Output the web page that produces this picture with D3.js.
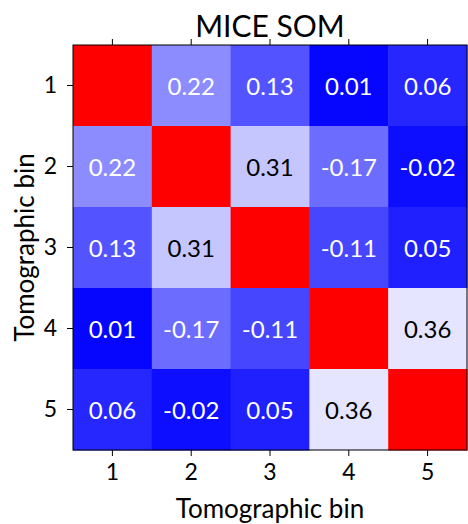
<!DOCTYPE html>
<html>
<head>
<meta charset="utf-8">
<script src="https://cdn.jsdelivr.net/npm/d3@7"></script>
<style>
body { margin: 0; background: #fff; }
text { font-family: Lato, "DejaVu Sans", sans-serif; }
</style>
</head>
<body>
<svg id="chart" width="468" height="524"></svg>
<script>
const bins = ['1', '2', '3', '4', '5'];
const matrix = [
    [1.00, 0.22, 0.13, 0.01, 0.06],
    [0.22, 1.00, 0.31, -0.17, -0.02],
    [0.13, 0.31, 1.00, -0.11, 0.05],
    [0.01, -0.17, -0.11, 1.00, 0.36],
    [0.06, -0.02, 0.05, 0.36, 1.00]
];

const margin = {top: 45, right: 1, bottom: 74, left: 73};
const width = 468 - margin.left - margin.right;
const height = 524 - margin.top - margin.bottom;

const svg = d3.select('#chart');
const g = svg.append('g').attr('transform', `translate(${margin.left},${margin.top})`);

const x = d3.scaleBand().domain(bins).range([0, width]);
const y = d3.scaleBand().domain(bins).range([0, height]);

// bwr colour map driven by |value|
function bwr(t) {
    t = Math.max(0, Math.min(1, t));
    if (t < 0.5) { const c = Math.round(2 * t * 255); return `rgb(${c},${c},255)`; }
    const c = Math.round((2 - 2 * t) * 255); return `rgb(255,${c},${c})`;
}
const tScale = d3.scaleLinear().domain([0, 0.8]).range([0, 1]);

const cells = [];
matrix.forEach((row, i) => row.forEach((v, j) => cells.push({i, j, v})));

g.selectAll('rect').data(cells).enter().append('rect')
    .attr('x', d => x(bins[d.j]))
    .attr('y', d => y(bins[d.i]))
    .attr('width', x.bandwidth() + 0.5)
    .attr('height', y.bandwidth() + 0.5)
    .attr('fill', d => bwr(tScale(Math.abs(d.v))));

g.selectAll('.lab').data(cells.filter(d => d.i !== d.j)).enter().append('text')
    .attr('x', d => x(bins[d.j]) + x.bandwidth() / 2)
    .attr('y', d => y(bins[d.i]) + y.bandwidth() / 2)
    .attr('text-anchor', 'middle')
    .attr('dominant-baseline', 'central')
    .attr('font-size', 24)
    .attr('fill', d => Math.abs(d.v) > 0.28 ? '#000' : '#fff')
    .text(d => d.v.toFixed(2));

g.append('rect').attr('width', width).attr('height', height)
    .attr('fill', 'none').attr('stroke', '#000').attr('stroke-width', 1);

const ax = g.append('g').attr('transform', `translate(0,${height})`)
    .call(d3.axisBottom(x).tickSize(6).tickPadding(8));
const ay = g.append('g').call(d3.axisLeft(y).tickSize(6).tickPadding(10));
const at = g.append('g').call(d3.axisTop(x).tickSize(6).tickFormat(''));
[ax, ay, at].forEach(a => {
    a.select('.domain').remove();
    a.selectAll('text').attr('font-size', 23).attr('fill', '#000');
});

svg.append('text').attr('x', margin.left + width / 2).attr('y', 37)
    .attr('text-anchor', 'middle').attr('font-size', 30).text('MICE SOM');
svg.append('text').attr('x', margin.left + width / 2).attr('y', 518)
    .attr('text-anchor', 'middle').attr('font-size', 26).text('Tomographic bin');
svg.append('text')
    .attr('transform', `translate(34,${margin.top + height / 2}) rotate(-90)`)
    .attr('text-anchor', 'middle').attr('font-size', 26).text('Tomographic bin');
</script>
</body>
</html>
